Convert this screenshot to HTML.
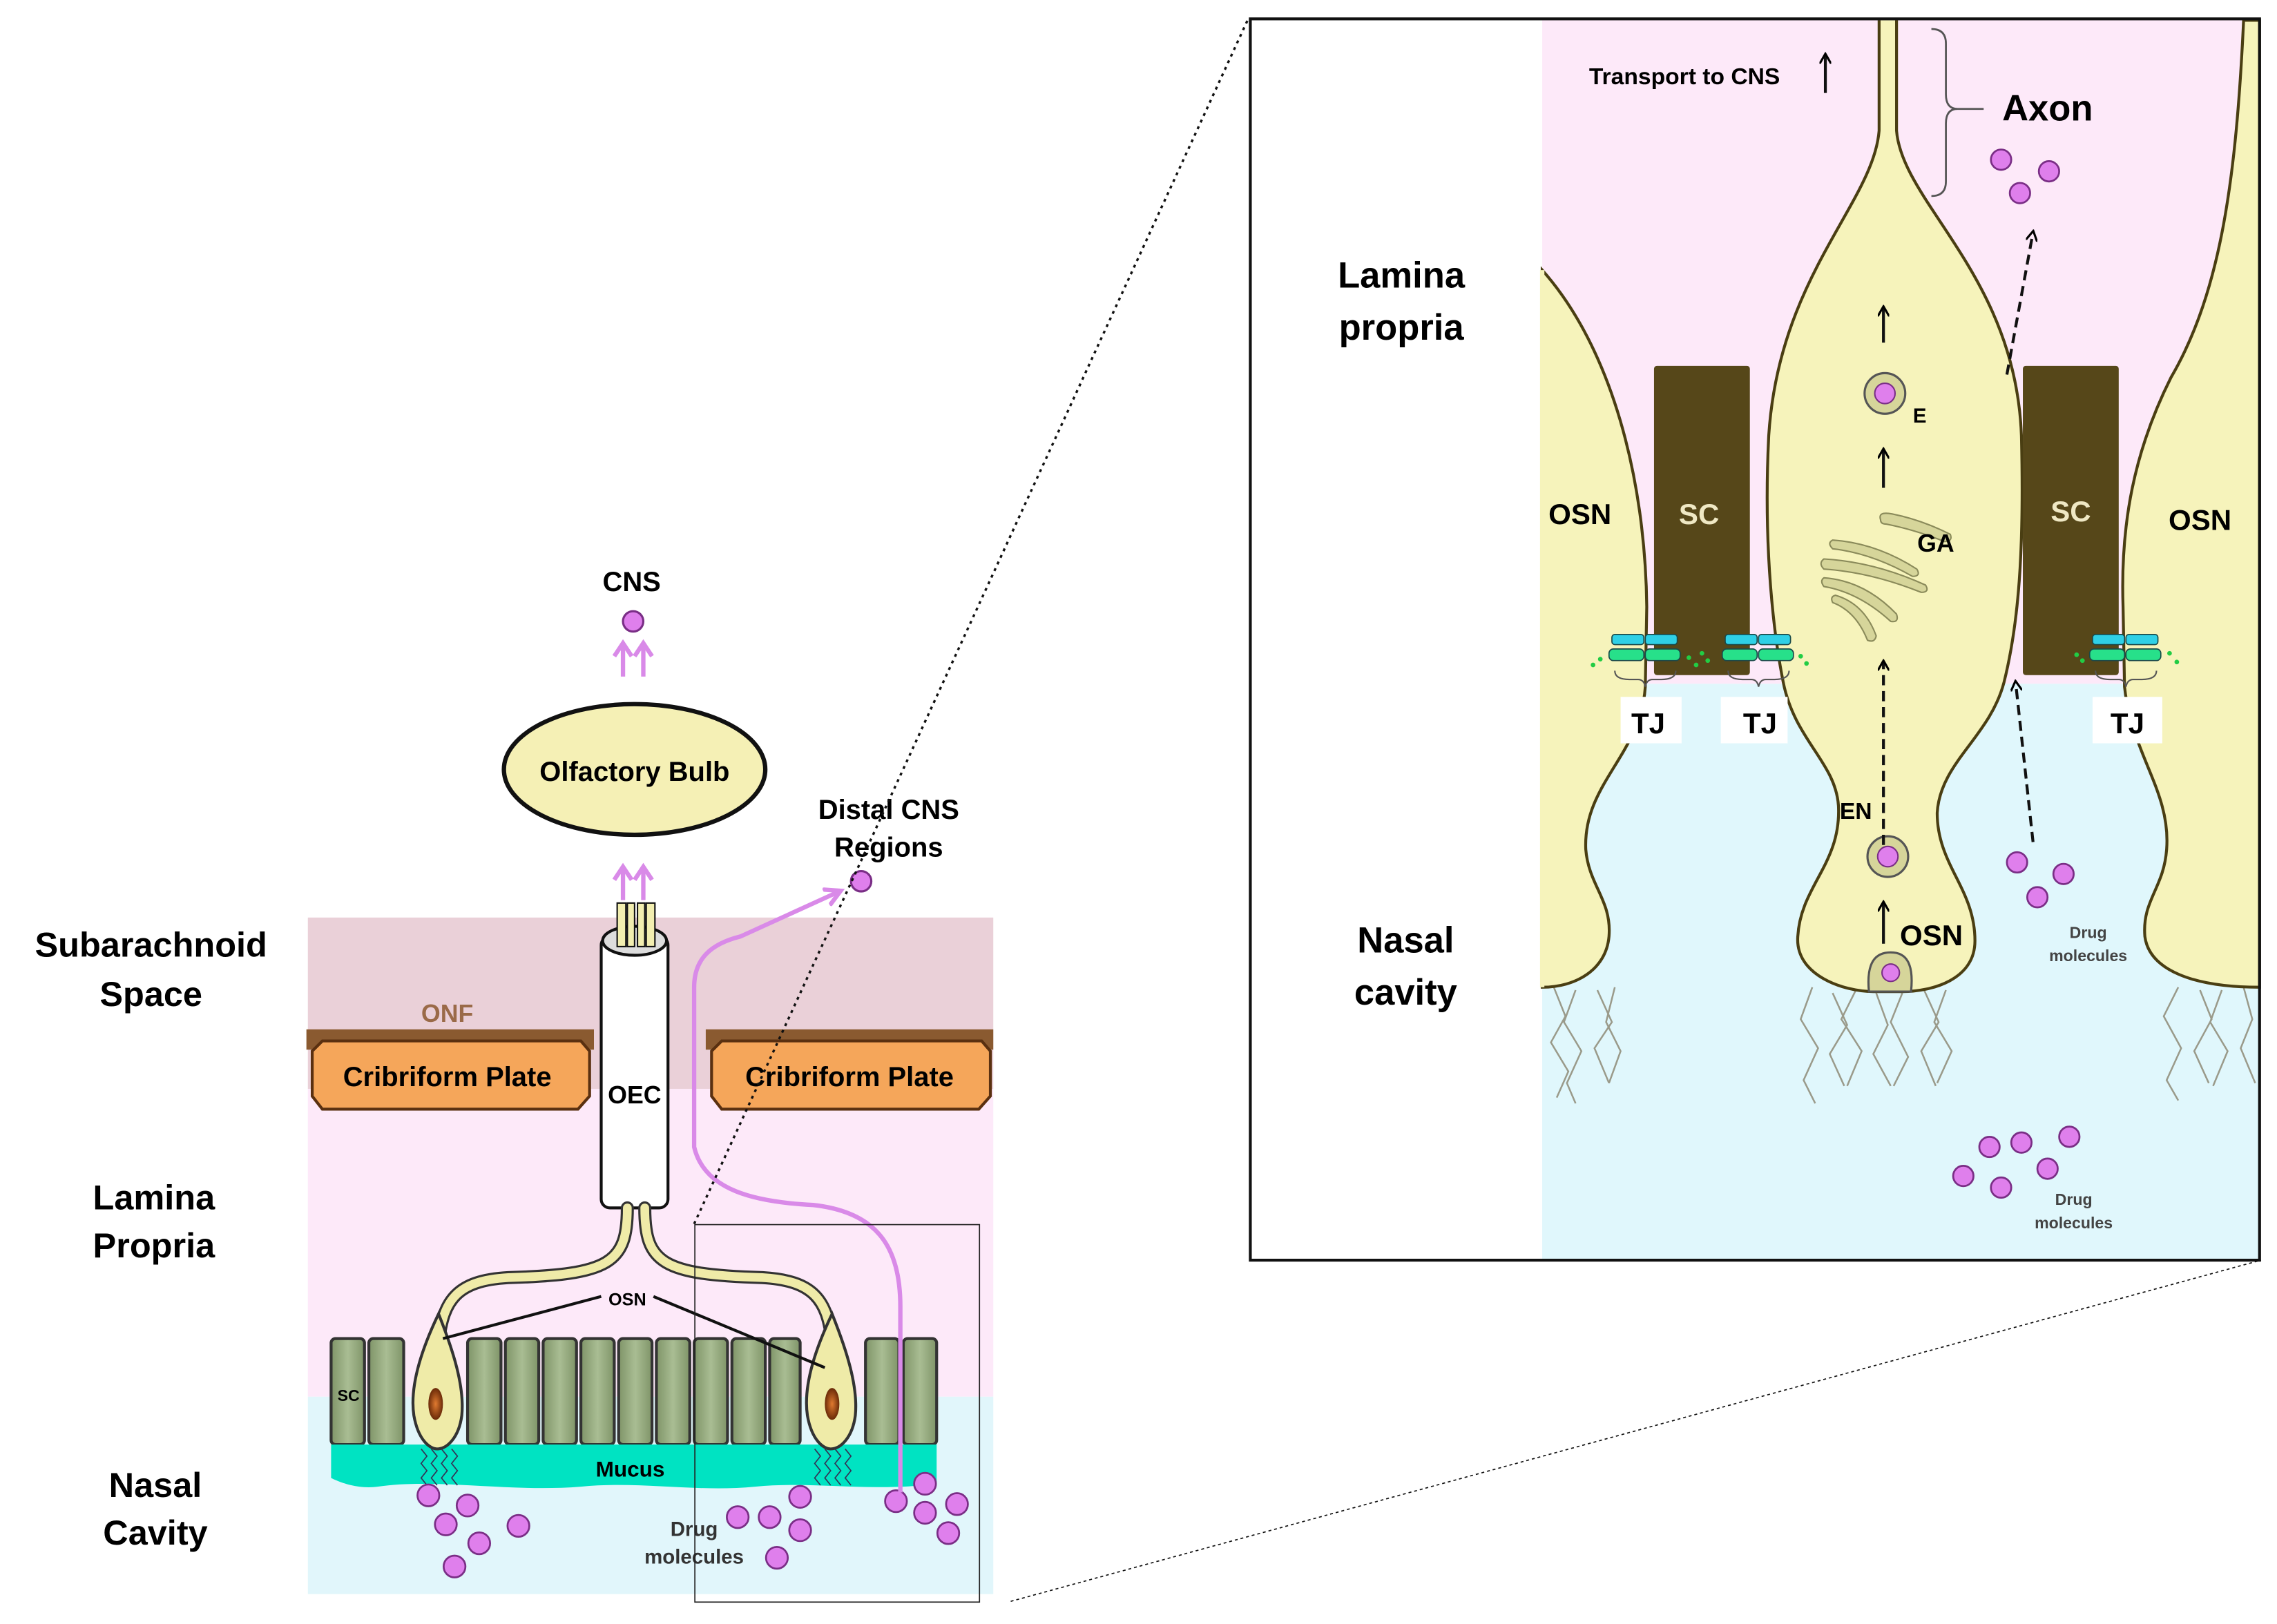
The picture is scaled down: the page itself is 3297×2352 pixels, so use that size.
<!DOCTYPE html>
<html><head><meta charset="utf-8"><style>
html,body{margin:0;padding:0;background:#fff;}
svg{display:block;}
text{font-family:"Liberation Sans",Arial,sans-serif;font-weight:bold;}
</style></head><body>
<svg width="3297" height="2352" viewBox="0 0 1568 1118.6" preserveAspectRatio="none" xmlns="http://www.w3.org/2000/svg">
<defs>
<linearGradient id="cg" x1="0" x2="1"><stop offset="0" stop-color="#7f9468"/><stop offset="0.5" stop-color="#a9bd93"/><stop offset="1" stop-color="#7f9468"/></linearGradient>
<radialGradient id="nuc"><stop offset="0" stop-color="#e07a30"/><stop offset="1" stop-color="#6a2a08"/></radialGradient>
<marker id="ah" markerWidth="8" markerHeight="8" refX="6" refY="4" orient="auto" markerUnits="userSpaceOnUse"><path d="M0,0 L7,4 L0,8" fill="none" stroke="#000" stroke-width="1.5"/></marker>
<marker id="ahp" markerWidth="14" markerHeight="14" refX="10" refY="7" orient="auto" markerUnits="userSpaceOnUse"><path d="M0,1 L11,7 L0,13" fill="none" stroke="#d98ae8" stroke-width="3"/></marker>
</defs>
<rect width="1568" height="1118.6" fill="#fff"/>

<rect x="212" y="632" width="472" height="118" fill="#ead0d8"/>
<rect x="212" y="750" width="472" height="212" fill="#fde9f9"/>
<rect x="212" y="962" width="472" height="136" fill="#e1f6fb"/>

<text x="104" y="659" font-size="24" text-anchor="middle">Subarachnoid</text>
<text x="104" y="693" font-size="24" text-anchor="middle">Space</text>
<text x="106" y="833" font-size="24" text-anchor="middle">Lamina</text>
<text x="106" y="866" font-size="24" text-anchor="middle">Propria</text>
<text x="107" y="1031" font-size="24" text-anchor="middle">Nasal</text>
<text x="107" y="1064" font-size="24" text-anchor="middle">Cavity</text>

<text x="435" y="407" font-size="19" text-anchor="middle">CNS</text>
<circle cx="436" cy="428" r="7" fill="#df7fec" stroke="#7a2e86" stroke-width="1.5"/>
<g stroke="#d98ae8" stroke-width="3" fill="none">
<path d="M429,466 V444 M423,452 L429,443 L435,452 M443,466 V444 M437,452 L443,443 L449,452"/>
<path d="M429,620 V598 M423,606 L429,597 L435,606 M443,620 V598 M437,606 L443,597 L449,606"/>
</g>
<ellipse cx="437" cy="530" rx="90" ry="45" fill="#f5f0b5" stroke="#111" stroke-width="3"/>
<text x="437" y="538" font-size="19" text-anchor="middle">Olfactory Bulb</text>

<text x="612" y="564" font-size="19" text-anchor="middle">Distal CNS</text>
<text x="612" y="590" font-size="19" text-anchor="middle">Regions</text>
<circle cx="593" cy="607" r="7" fill="#df7fec" stroke="#7a2e86" stroke-width="1.5"/>

<text x="308" y="704" font-size="17" fill="#9a6a48" text-anchor="middle">ONF</text>
<rect x="211" y="709" width="198" height="14" fill="#8a5a30"/>
<rect x="486" y="709" width="198" height="14" fill="#8a5a30"/>
<path d="M222,717 H400 L406,724 V755 L398,764 H222 L215,755 V724 Z" fill="#f5a65a" stroke="#5a3010" stroke-width="2"/>
<path d="M497,717 H676 L682,724 V755 L674,764 H497 L490,755 V724 Z" fill="#f5a65a" stroke="#5a3010" stroke-width="2"/>
<text x="308" y="748" font-size="19" text-anchor="middle">Cribriform Plate</text>
<text x="585" y="748" font-size="19" text-anchor="middle">Cribriform Plate</text>

<rect x="414" y="645" width="46" height="187" rx="6" fill="#fff" stroke="#111" stroke-width="2"/>
<ellipse cx="437" cy="648" rx="22" ry="10" fill="#ddd" stroke="#111" stroke-width="2"/>
<g stroke="#111" stroke-width="1" fill="#f2eeb0">
<rect x="425" y="622" width="6" height="30"/><rect x="432" y="622" width="5" height="30"/>
<rect x="439" y="622" width="5" height="30"/><rect x="445" y="622" width="6" height="30"/>
</g>
<text x="437" y="760" font-size="17" text-anchor="middle">OEC</text>

<g fill="none" stroke-linecap="round">
<path d="M432,832 C432,870 420,878 350,880 C315,882 305,895 302,925" stroke="#333" stroke-width="9"/>
<path d="M432,832 C432,870 420,878 350,880 C315,882 305,895 302,925" stroke="#efeba8" stroke-width="6"/>
<path d="M444,832 C444,870 456,878 525,880 C560,882 570,895 573,925" stroke="#333" stroke-width="9"/>
<path d="M444,832 C444,870 456,878 525,880 C560,882 570,895 573,925" stroke="#efeba8" stroke-width="6"/>
</g>

<g fill="url(#cg)" stroke="#333" stroke-width="2">
<rect x="228" y="922" width="23" height="73" rx="3"/>
<rect x="254" y="922" width="24" height="73" rx="3"/>
<rect x="322" y="922" width="23" height="73" rx="3"/>
<rect x="348" y="922" width="23" height="73" rx="3"/>
<rect x="374" y="922" width="23" height="73" rx="3"/>
<rect x="400" y="922" width="23" height="73" rx="3"/>
<rect x="426" y="922" width="23" height="73" rx="3"/>
<rect x="452" y="922" width="23" height="73" rx="3"/>
<rect x="478" y="922" width="23" height="73" rx="3"/>
<rect x="504" y="922" width="23" height="73" rx="3"/>
<rect x="530" y="922" width="21" height="73" rx="3"/>
<rect x="596" y="922" width="23" height="73" rx="3"/>
<rect x="622" y="922" width="23" height="73" rx="3"/>
</g>
<text x="240" y="965" font-size="11" text-anchor="middle">SC</text>
<path d="M228,995 H645 V1022 C600,1028 560,1020 520,1024 C480,1028 440,1020 400,1024 C350,1028 300,1018 260,1024 C245,1026 232,1020 228,1018 Z" fill="#00e3c2"/>
<text x="434" y="1017" font-size="15" text-anchor="middle">Mucus</text>
<path d="M302,905 C290,930 282,955 285,975 C288,992 296,998 301,998 C308,998 316,990 318,975 C320,955 312,930 302,905 Z" fill="#efeba8" stroke="#333" stroke-width="2"/>
<path d="M573,905 C561,930 553,955 556,975 C559,992 567,998 572,998 C579,998 587,990 589,975 C591,955 583,930 573,905 Z" fill="#efeba8" stroke="#333" stroke-width="2"/>
<ellipse cx="300" cy="967" rx="5" ry="11" fill="url(#nuc)"/>
<ellipse cx="573" cy="967" rx="5" ry="11" fill="url(#nuc)"/>
<g stroke="#335" stroke-width="0.8" fill="none">
<path d="M290,998 l4,5 -4,5 4,5 -4,5 4,5 M297,998 l4,5 -4,5 4,5 -4,5 4,5 M304,998 l4,5 -4,5 4,5 -4,5 4,5 M311,998 l4,5 -4,5 4,5 -4,5 4,5"/>
<path d="M561,998 l4,5 -4,5 4,5 -4,5 4,5 M568,998 l4,5 -4,5 4,5 -4,5 4,5 M575,998 l4,5 -4,5 4,5 -4,5 4,5 M582,998 l4,5 -4,5 4,5 -4,5 4,5"/>
</g>
<text x="432" y="899" font-size="12" text-anchor="middle">OSN</text>
<path d="M414,893 L305,922 M450,893 L568,942" stroke="#111" stroke-width="2"/>

<g fill="#df7fec" stroke="#7a2e86" stroke-width="1.3">
<circle cx="295" cy="1030" r="7.5"/><circle cx="322" cy="1037" r="7.5"/><circle cx="307" cy="1050" r="7.5"/>
<circle cx="357" cy="1051" r="7.5"/><circle cx="330" cy="1063" r="7.5"/><circle cx="313" cy="1079" r="7.5"/>
<circle cx="551" cy="1031" r="7.5"/><circle cx="508" cy="1045" r="7.5"/><circle cx="530" cy="1045" r="7.5"/>
<circle cx="551" cy="1054" r="7.5"/><circle cx="535" cy="1073" r="7.5"/>
<circle cx="637" cy="1022" r="7.5"/><circle cx="617" cy="1034" r="7.5"/><circle cx="659" cy="1036" r="7.5"/>
<circle cx="637" cy="1042" r="7.5"/><circle cx="653" cy="1056" r="7.5"/>
</g>
<text x="478" y="1058" font-size="14" fill="#333" text-anchor="middle">Drug</text>
<text x="478" y="1077" font-size="14" fill="#333" text-anchor="middle">molecules</text>

<path d="M620,1028 V900 C620,860 605,835 560,830 C520,828 485,820 478,790 V680 C478,660 490,650 510,645 L578,614" fill="none" stroke="#d98ae8" stroke-width="3" marker-end="url(#ahp)"/>

<rect x="478.5" y="843.5" width="196" height="260" fill="none" stroke="#222" stroke-width="0.8"/>
<path d="M478,843 L860,12" stroke="#111" stroke-width="1.6" stroke-dasharray="2,3"/>
<path d="M696,1103 L1557,868" stroke="#111" stroke-width="0.8" stroke-dasharray="2,2"/>

<text x="965" y="198" font-size="25" text-anchor="middle">Lamina</text>
<text x="965" y="234" font-size="25" text-anchor="middle">propria</text>
<text x="968" y="656" font-size="25" text-anchor="middle">Nasal</text>
<text x="968" y="692" font-size="25" text-anchor="middle">cavity</text>

<rect x="1062" y="13" width="494" height="458" fill="#fde9f9"/>
<rect x="1062" y="471" width="494" height="396" fill="#e0f7fc"/>

<g stroke="#9a9a8a" stroke-width="1.2" fill="none">
<path d="M1070,680 l8,20 -10,18 12,20 -8,18 M1085,682 l-8,22 12,20 -10,22 6,14 M1100,682 l10,22 -12,18 10,24 M1112,680 l-6,24 10,20 -8,22"/>
<path d="M1248,680 l-8,22 12,20 -10,22 8,16 M1262,684 l10,22 -12,20 10,22 M1278,682 l-10,20 14,22 -10,24 M1292,684 l8,22 -10,20 12,22 M1310,684 l-8,20 12,24 -10,20 M1325,682 l10,22 -12,20 10,24 M1340,682 l-8,22 12,20 -10,22"/>
<path d="M1500,680 l-10,20 12,22 -10,22 8,14 M1515,682 l8,20 -12,22 10,22 M1530,682 l-8,22 12,20 -10,24 M1545,680 l6,22 -8,20 10,24"/>
</g>

<path d="M1062,186 C1110,240 1133,330 1134,418 L1133,473 C1130,520 1090,540 1092,585 C1094,610 1110,620 1108,645 C1106,668 1085,680 1062,680 Z" fill="#f6f3bb" stroke="#4a3e12" stroke-width="2"/>
<path d="M1062,186 V680" stroke="#f6f3bb" stroke-width="3"/>
<path d="M1556,14 L1545,14 C1540,120 1530,200 1495,260 C1470,310 1460,360 1462,418 L1463,473 C1468,520 1495,545 1492,585 C1490,612 1475,620 1477,645 C1480,668 1510,680 1556,680 Z" fill="#f6f3bb" stroke="#4a3e12" stroke-width="2"/>
<path d="M1294,14 L1294,90 C1290,140 1225,190 1218,300 C1214,380 1222,440 1228,470 C1236,510 1264,525 1266,555 C1268,595 1240,610 1238,645 C1236,672 1270,683 1290,683 L1310,683 C1330,683 1360,675 1360,648 C1360,612 1334,596 1334,560 C1336,525 1370,508 1380,470 C1390,430 1394,380 1392,300 C1388,190 1310,140 1306,90 L1306,14" fill="#f6f3bb" stroke="#4a3e12" stroke-width="2"/>

<rect x="1139" y="252" width="66" height="213" rx="2" fill="#564719"/>
<rect x="1393" y="252" width="66" height="213" rx="2" fill="#564719"/>
<text x="1170" y="361" font-size="20" fill="#efe8c4" text-anchor="middle">SC</text>
<text x="1426" y="359" font-size="20" fill="#efe8c4" text-anchor="middle">SC</text>

<g stroke="#1a4a4a" stroke-width="0.8">
<g fill="#2fd0e6"><rect x="1110" y="437" width="22" height="7" rx="2"/><rect x="1133" y="437" width="22" height="7" rx="2"/><rect x="1188" y="437" width="22" height="7" rx="2"/><rect x="1211" y="437" width="22" height="7" rx="2"/><rect x="1441" y="437" width="22" height="7" rx="2"/><rect x="1464" y="437" width="22" height="7" rx="2"/></g>
<g fill="#27e08a"><rect x="1108" y="447" width="24" height="8" rx="3"/><rect x="1133" y="447" width="24" height="8" rx="3"/><rect x="1186" y="447" width="24" height="8" rx="3"/><rect x="1211" y="447" width="24" height="8" rx="3"/><rect x="1439" y="447" width="24" height="8" rx="3"/><rect x="1464" y="447" width="24" height="8" rx="3"/></g>
</g>
<g fill="#22cc44">
<circle cx="1097" cy="458" r="1.6"/><circle cx="1102" cy="454" r="1.6"/><circle cx="1163" cy="453" r="1.6"/><circle cx="1168" cy="458" r="1.6"/><circle cx="1172" cy="450" r="1.6"/><circle cx="1176" cy="455" r="1.6"/>
<circle cx="1240" cy="452" r="1.6"/><circle cx="1244" cy="457" r="1.6"/><circle cx="1430" cy="451" r="1.6"/><circle cx="1434" cy="455" r="1.6"/><circle cx="1494" cy="450" r="1.6"/><circle cx="1499" cy="456" r="1.6"/>
</g>
<g stroke="#555" stroke-width="1" fill="none">
<path d="M1112,462 q0,6 10,6 h6 q4,0 5,5 q1,-5 5,-5 h6 q10,0 10,-6"/>
<path d="M1190,462 q0,6 10,6 h6 q4,0 5,5 q1,-5 5,-5 h6 q10,0 10,-6"/>
<path d="M1443,462 q0,6 10,6 h6 q4,0 5,5 q1,-5 5,-5 h6 q10,0 10,-6"/>
</g>
<rect x="1116" y="480" width="42" height="32" fill="#fff"/>
<rect x="1185" y="480" width="46" height="32" fill="#fff"/>
<rect x="1441" y="480" width="48" height="32" fill="#fff"/>
<text x="1135" y="505" font-size="20" text-anchor="middle">TJ</text>
<text x="1212" y="505" font-size="20" text-anchor="middle">TJ</text>
<text x="1465" y="505" font-size="20" text-anchor="middle">TJ</text>

<text x="1088" y="361" font-size="20" text-anchor="middle">OSN</text>
<text x="1515" y="365" font-size="20" text-anchor="middle">OSN</text>

<g fill="#d6d59a" stroke="#8a8a5a" stroke-width="1">
<path d="M1295,358 q-2,-6 8,-4 q20,4 40,14 q2,5 -4,5 q-20,-8 -40,-12 q-4,0 -4,-3z"/>
<path d="M1262,372 q30,2 58,20 q3,5 -3,5 q-28,-16 -55,-19 q-4,-4 0,-6z"/>
<path d="M1256,385 q35,2 70,18 q3,5 -3,5 q-35,-14 -67,-16 q-4,-4 0,-7z"/>
<path d="M1256,398 q28,2 50,25 q2,6 -4,5 q-22,-20 -46,-24 q-3,-4 0,-6z"/>
<path d="M1264,410 q20,6 28,28 q-1,5 -6,3 q-8,-20 -24,-26 q-2,-4 2,-5z"/>
</g>
<text x="1333" y="380" font-size="17" text-anchor="middle">GA</text>

<circle cx="1298" cy="271" r="14" fill="#d6d59a" stroke="#555" stroke-width="1.5"/>
<circle cx="1298" cy="271" r="7" fill="#df7fec" stroke="#7a2e86"/>
<text x="1322" y="291" font-size="14" text-anchor="middle">E</text>
<circle cx="1300" cy="590" r="14" fill="#d6d59a" stroke="#555" stroke-width="1.5"/>
<circle cx="1300" cy="590" r="7" fill="#df7fec" stroke="#7a2e86"/>
<text x="1278" y="564" font-size="16" text-anchor="middle">EN</text>
<path d="M1287,683 C1285,662 1292,656 1302,656 C1313,656 1318,664 1316,683 Z" fill="#d6d59a" stroke="#555" stroke-width="1.5"/>
<circle cx="1302" cy="670" r="6" fill="#df7fec" stroke="#7a2e86"/>
<text x="1330" y="651" font-size="20" text-anchor="middle">OSN</text>

<g stroke="#111" stroke-width="2" fill="none" marker-end="url(#ah)">
<path d="M1297,236 V212"/>
<path d="M1297,336 V310"/>
<path d="M1297,582 V456" stroke-dasharray="7,4"/>
<path d="M1297,650 V622"/>
<path d="M1400,580 L1388,470" stroke-dasharray="7,4"/>
<path d="M1382,258 L1400,160" stroke-dasharray="7,4"/>
<path d="M1257,64 V38"/>
</g>
<text x="1160" y="58" font-size="16" text-anchor="middle">Transport to CNS</text>

<path d="M1330,20 q10,0 10,10 v35 q0,10 8,10 q-8,0 -8,10 v40 q0,10 -10,10 M1348,75 H1366" fill="none" stroke="#555" stroke-width="1.3"/>
<text x="1410" y="83" font-size="25" text-anchor="middle">Axon</text>

<g fill="#df7fec" stroke="#7a2e86" stroke-width="1.3">
<circle cx="1378" cy="110" r="7"/><circle cx="1411" cy="118" r="7"/><circle cx="1391" cy="133" r="7"/>
<circle cx="1389" cy="594" r="7"/><circle cx="1421" cy="602" r="7"/><circle cx="1403" cy="618" r="7"/>
<circle cx="1370" cy="790" r="7"/><circle cx="1392" cy="787" r="7"/><circle cx="1425" cy="783" r="7"/>
<circle cx="1352" cy="810" r="7"/><circle cx="1378" cy="818" r="7"/><circle cx="1410" cy="805" r="7"/>
</g>
<text x="1438" y="646" font-size="11" fill="#444" text-anchor="middle">Drug</text>
<text x="1438" y="662" font-size="11" fill="#444" text-anchor="middle">molecules</text>
<text x="1428" y="830" font-size="11" fill="#444" text-anchor="middle">Drug</text>
<text x="1428" y="846" font-size="11" fill="#444" text-anchor="middle">molecules</text>

<rect x="861" y="13" width="695" height="855" fill="none" stroke="#111" stroke-width="2"/>
</svg>
</body></html>
